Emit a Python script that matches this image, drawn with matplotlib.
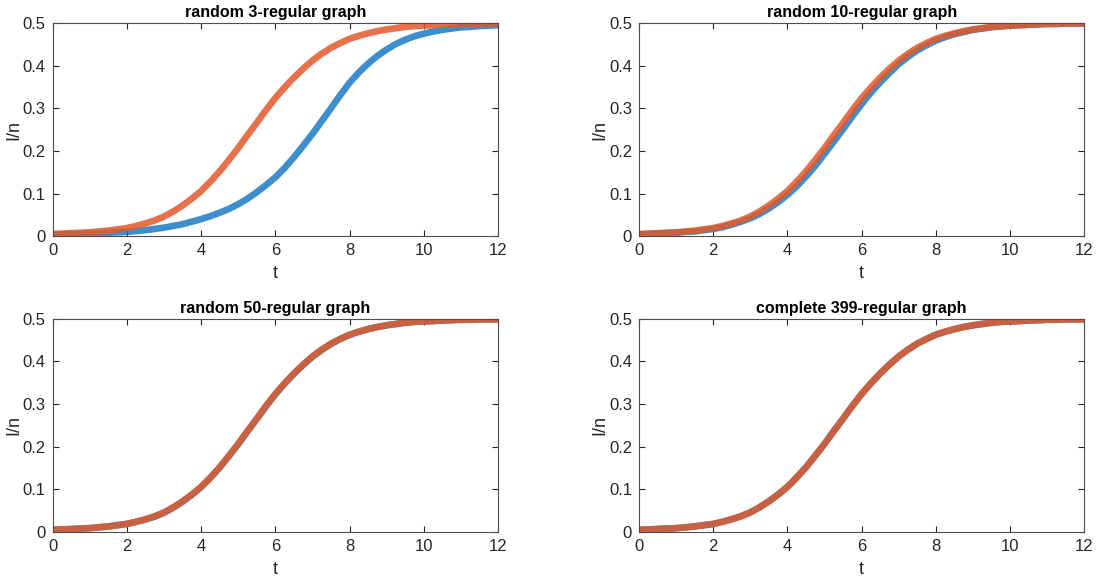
import matplotlib
matplotlib.use("Agg")
import matplotlib.pyplot as plt
from matplotlib.ticker import FuncFormatter

plt.rcParams['font.family'] = ['Liberation Sans', 'DejaVu Sans']

t = [0, 0.25, 0.5, 0.75, 1, 1.25, 1.5, 1.75, 2, 2.25, 2.5, 2.75, 3, 3.25,
     3.5, 3.75, 4, 4.25, 4.5, 4.75, 5, 5.25, 5.5, 5.75, 6, 6.25, 6.5, 6.75,
     7, 7.25, 7.5, 7.75, 8, 8.25, 8.5, 8.75, 9, 9.25, 9.5, 9.75, 10, 10.25,
     10.5, 10.75, 11, 11.25, 11.5, 11.75, 12]

mean_field = [0.005, 0.006, 0.007, 0.008, 0.009, 0.011, 0.013, 0.016, 0.019,
              0.024, 0.030, 0.037, 0.046, 0.058, 0.072, 0.088, 0.106, 0.128,
              0.152, 0.179, 0.207, 0.237, 0.266, 0.296, 0.324, 0.349, 0.372,
              0.393, 0.412, 0.428, 0.442, 0.453, 0.463, 0.470, 0.476, 0.481,
              0.485, 0.488, 0.491, 0.493, 0.494, 0.495, 0.496, 0.497, 0.498,
              0.498, 0.499, 0.499, 0.499]

sim_3 = [0.004, 0.004, 0.005, 0.005, 0.006, 0.007, 0.008, 0.009, 0.010,
         0.012, 0.014, 0.017, 0.020, 0.024, 0.028, 0.034, 0.040, 0.047,
         0.055, 0.064, 0.075, 0.088, 0.103, 0.120, 0.138, 0.160, 0.185,
         0.212, 0.240, 0.270, 0.300, 0.331, 0.360, 0.384, 0.405, 0.423,
         0.438, 0.451, 0.461, 0.469, 0.475, 0.480, 0.484, 0.487, 0.490,
         0.491, 0.493, 0.494, 0.495]

sim_10 = [0.004, 0.005, 0.006, 0.007, 0.008, 0.010, 0.011, 0.014, 0.017,
          0.021, 0.027, 0.034, 0.042, 0.052, 0.065, 0.080, 0.097, 0.117,
          0.140, 0.165, 0.193, 0.222, 0.251, 0.281, 0.310, 0.337, 0.361,
          0.383, 0.404, 0.421, 0.436, 0.448, 0.459, 0.467, 0.474, 0.479,
          0.484, 0.487, 0.490, 0.492, 0.494, 0.495, 0.496, 0.497, 0.498,
          0.498, 0.499, 0.499, 0.499]

sim_50 = [0.005, 0.006, 0.007, 0.008, 0.009, 0.011, 0.013, 0.016, 0.019,
          0.024, 0.029, 0.036, 0.045, 0.057, 0.071, 0.087, 0.105, 0.127,
          0.151, 0.178, 0.206, 0.236, 0.265, 0.295, 0.323, 0.348, 0.371,
          0.392, 0.411, 0.427, 0.441, 0.453, 0.462, 0.470, 0.476, 0.481,
          0.485, 0.488, 0.491, 0.493, 0.494, 0.495, 0.496, 0.497, 0.498,
          0.498, 0.499, 0.499, 0.499]

sim_399 = [0.005, 0.006, 0.007, 0.008, 0.009, 0.011, 0.013, 0.016, 0.019,
           0.024, 0.030, 0.037, 0.046, 0.058, 0.072, 0.088, 0.106, 0.128,
           0.152, 0.179, 0.207, 0.237, 0.266, 0.296, 0.324, 0.349, 0.372,
           0.393, 0.412, 0.428, 0.442, 0.453, 0.463, 0.470, 0.476, 0.481,
           0.485, 0.488, 0.491, 0.493, 0.494, 0.495, 0.496, 0.497, 0.498,
           0.498, 0.499, 0.499, 0.499]

titles = ["random 3-regular graph", "random 10-regular graph",
          "random 50-regular graph", "complete 399-regular graph"]
sims = [sim_3, sim_10, sim_50, sim_399]

xticks = [0, 2, 4, 6, 8, 10, 12]
yticks = [0, 0.1, 0.2, 0.3, 0.4, 0.5]

BLUE = "#1a7cc4"
ORANGE = "#e2582a"
AXC = "#262626"

fig = plt.figure(figsize=(10.97, 5.76), dpi=100)

lefts = [0.048, 0.5825]
bottoms = [0.590, 0.0764]
w = 0.406
h = 0.370

def fmt(v, pos):
    return "0" if abs(v) < 1e-9 else f"{v:.1f}"

for i, (title, sim) in enumerate(zip(titles, sims)):
    r, c = divmod(i, 2)
    ax = fig.add_axes([lefts[c], bottoms[r], w, h])
    ax.plot(t, sim, color=BLUE, lw=4.8, alpha=0.85, solid_capstyle='butt',
            solid_joinstyle='round')
    ax.plot(t, mean_field, color=ORANGE, lw=4.8, alpha=0.85,
            solid_capstyle='butt', solid_joinstyle='round')
    ax.set_xlim(0, 12)
    ax.set_ylim(0, 0.5)
    ax.set_xticks(xticks)
    ax.set_yticks(yticks)
    ax.yaxis.set_major_formatter(FuncFormatter(fmt))
    ax.tick_params(direction='in', length=4, width=0.8, top=True, right=True,
                   colors=AXC, labelsize=12, labelcolor=AXC, pad=5)
    for sp in ax.spines.values():
        sp.set_color("#4d4d4d")
        sp.set_linewidth(0.8)
    ax.set_title(title, fontsize=11.5, fontweight='bold', color='black', pad=4)
    ax.set_xlabel("t", fontsize=13, color=AXC, labelpad=5)
    ax.set_ylabel("I/n", fontsize=13, color=AXC, labelpad=0.5)

fig.savefig("out.png", dpi=100)
